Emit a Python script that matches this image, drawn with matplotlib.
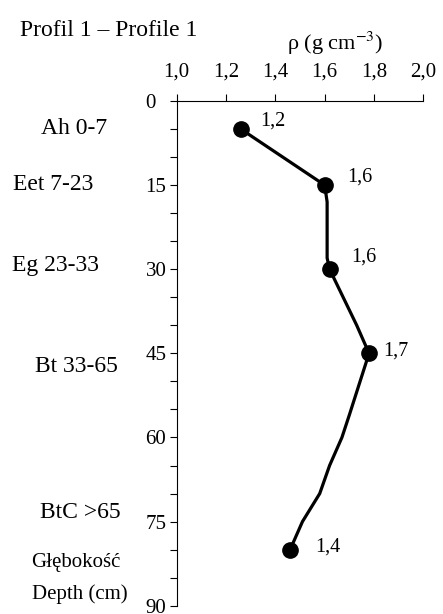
import matplotlib
matplotlib.use("Agg")
import matplotlib.pyplot as plt
from matplotlib.ticker import MultipleLocator

plt.rcParams['font.family'] = ['Liberation Serif', 'DejaVu Serif']
plt.rcParams['mathtext.fontset'] = 'stix'

# measured points (depth in cm, bulk density)
depth = [5, 15, 30, 45, 80]
rho = [1.26, 1.60, 1.62, 1.78, 1.46]
rho_labels = ['1,2', '1,6', '1,6', '1,7', '1,4']
# label offsets from each point, in points (right, up)
label_dx = [14, 16.5, 15.5, 10, 18]
label_dy = [6, 5.5, 9, 1.5, 2]

# traced profile line between the points
line_depth = [5, 15, 18, 28, 30, 40, 45, 56, 60, 65, 70, 75, 80]
line_rho = [1.26, 1.60, 1.61, 1.61, 1.62, 1.73, 1.78, 1.70, 1.67, 1.62, 1.58, 1.51, 1.46]

# soil horizons on the left side (pixel positions of the centres)
horizons = ['Ah 0-7', 'Eet 7-23', 'Eg 23-33', 'Bt 33-65', 'BtC >65']
horizon_y = [129, 185, 266, 366, 512]
horizon_x = [74, 53.5, 56, 76.5, 80]

x_ticks = [1.0, 1.2, 1.4, 1.6, 1.8, 2.0]
x_ticklabels = ['1,0', '1,2', '1,4', '1,6', '1,8', '2,0']
y_ticks = [0, 15, 30, 45, 60, 75, 90]

W, H = 443, 614
fig = plt.figure(figsize=(W / 100, H / 100), dpi=100)
ax = fig.add_axes([176.7 / W, 1 - 605.7 / H, (423.3 - 176.7) / W, (605.7 - 101) / H])

ax.plot(line_rho, line_depth, color='black', lw=2.3, solid_joinstyle='round', zorder=2)
ax.plot(rho, depth, 'o', color='black', ms=11, zorder=3)
for r, d, lab, dx, dy in zip(rho, depth, rho_labels, label_dx, label_dy):
    ax.annotate(lab, (r, d), xytext=(dx, dy), textcoords='offset points',
                fontsize=14.5, va='center', ha='left')

ax.set_xlim(1.0, 2.0)
ax.set_ylim(90, 0)
ax.xaxis.tick_top()
ax.set_xticks(x_ticks)
ax.set_xticklabels(x_ticklabels)
ax.set_yticks(y_ticks)
ax.yaxis.set_minor_locator(MultipleLocator(5))
ax.tick_params(axis='x', direction='out', length=5, width=0.8, pad=9, labelsize=15)
ax.tick_params(axis='y', which='both', direction='out', length=5, width=0.8, pad=17.5, labelsize=15)
for t in ax.get_yticklabels():
    t.set_horizontalalignment('left')
for s in ['right', 'bottom']:
    ax.spines[s].set_visible(False)
for s in ['left', 'top']:
    ax.spines[s].set_linewidth(0.8)

for lab, x, y in zip(horizons, horizon_x, horizon_y):
    fig.text(x / W, 1 - y / H, lab, fontsize=17, ha='center', va='center')

fig.text(20 / W, 1 - 31 / H, 'Profil 1 \u2013 Profile 1', fontsize=17, ha='left', va='center')
fig.text(335 / W, 1 - 43 / H, '\u03c1 (g cm$^{-3}$)', fontsize=16, ha='center', va='center')
fig.text(76 / W, 1 - 563 / H, 'Głębokość', fontsize=15, ha='center', va='center')
fig.text(80 / W, 1 - 594 / H, 'Depth (cm)', fontsize=15, ha='center', va='center')

fig.savefig('out.png', dpi=100)
